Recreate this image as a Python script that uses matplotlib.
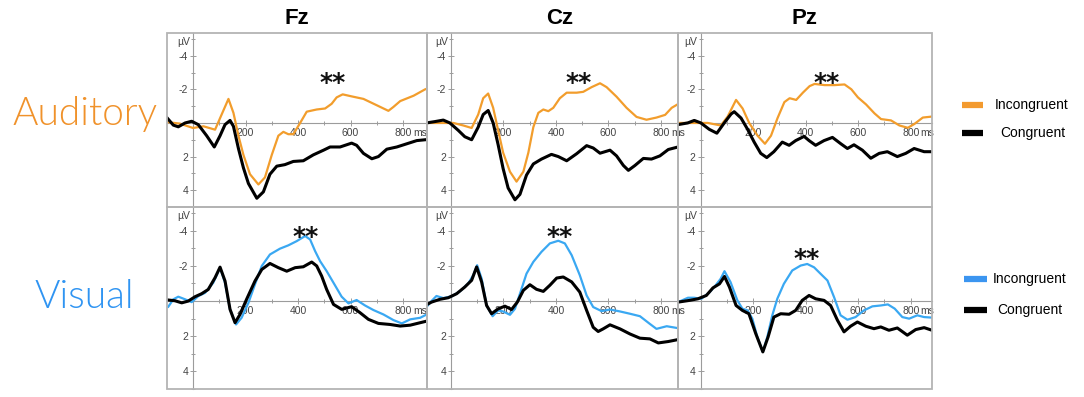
import numpy as np
import matplotlib
matplotlib.use('Agg')
import matplotlib.pyplot as plt
from matplotlib.patches import Rectangle
from matplotlib.lines import Line2D

plt.rcParams['axes.unicode_minus'] = False
plt.rcParams['font.family'] = ['Liberation Sans', 'DejaVu Sans']

# ---- data (ms, microvolts) ----
# Auditory / Fz
aud_fz_inc_t = [-98, -50, 0, 40, 84, 109, 135, 154, 173, 192, 217, 249, 274, 300, 325, 344, 363, 382, 408,
                433, 471, 503, 528, 547, 570, 604, 649, 700, 744, 763, 789, 840, 884]
aud_fz_inc_v = [-0.05, 0.04, 0.3, 0.2, 0.4, -0.5, -1.43, -0.6, 0.76, 1.9, 3.05, 3.66, 3.24, 1.9, 0.76, 0.53, 0.67,
                0.67, 0.0, -0.67, -0.8, -0.86, -1.14, -1.52, -1.7, -1.58, -1.43, -1.05, -0.72, -0.95, -1.3, -1.62, -2.0]
aud_fz_con_t = [-98, -75, -56, -30, -5, 20, 52, 81, 103, 122, 141, 154, 173, 192, 211, 243, 268, 293, 319, 350,
                382, 420, 458, 497, 522, 560, 604, 623, 649, 681, 706, 738, 776, 814, 852, 884]
aud_fz_con_v = [-0.29, 0.13, 0.23, 0.0, -0.1, 0.1, 0.76, 1.43, 0.76, 0.1, -0.15, 0.2, 1.52, 2.67, 3.6, 4.48, 4.1,
                3.05, 2.57, 2.48, 2.29, 2.25, 1.9, 1.62, 1.43, 1.43, 1.2, 1.33, 1.81, 2.13, 2.0, 1.56, 1.43, 1.24,
                1.05, 1.0]

# Auditory / Cz
aud_cz_inc_t = [-93, -42, 9, 47, 79, 104, 123, 142, 161, 180, 199, 225, 250, 276, 295, 314, 333, 352, 371, 390,
                415, 441, 479, 504, 536, 568, 593, 631, 669, 707, 745, 783, 816, 841, 865]
aud_cz_inc_v = [0.0, 0.0, 0.0, 0.15, 0.3, -0.5, -1.47, -1.75, -0.9, 0.44, 1.77, 2.9, 3.49, 2.9, 1.77, 0.25, -0.6,
                -0.8, -0.7, -0.9, -1.47, -1.8, -1.8, -1.85, -2.13, -2.36, -2.13, -1.56, -0.9, -0.36, -0.19, -0.32,
                -0.48, -0.9, -1.12]
aud_cz_con_t = [-93, -61, -29, -4, 28, 53, 79, 104, 123, 142, 161, 180, 199, 218, 244, 263, 288, 314, 345, 383,
                409, 441, 479, 517, 542, 568, 606, 631, 657, 676, 701, 733, 764, 796, 828, 865]
aud_cz_con_v = [0.0, -0.08, -0.17, 0.0, 0.44, 0.82, 1.0, 0.25, -0.5, -0.74, 0.0, 1.3, 2.72, 3.87, 4.57, 4.25, 3.1,
                2.44, 2.15, 1.87, 2.0, 2.25, 1.83, 1.35, 1.49, 1.8, 1.62, 1.96, 2.53, 2.82, 2.53, 2.11, 2.15, 1.96,
                1.58, 1.43]

# Auditory / Pz
aud_pz_inc_t = [-86, -24, 27, 77, 103, 135, 160, 185, 217, 245, 268, 293, 319, 339, 364, 390, 415, 434, 472, 510,
                548, 574, 599, 630, 662, 687, 725, 757, 789, 814, 846, 881]
aud_pz_inc_v = [0.0, 0.0, 0.0, 0.15, -0.38, -1.37, -0.86, 0.0, 0.76, 1.24, 0.76, -0.29, -1.24, -1.47, -1.37, -1.81,
                -2.19, -2.32, -2.25, -2.25, -2.29, -2.0, -1.52, -1.1, -0.57, -0.23, -0.15, 0.15, 0.29, 0.06, -0.32,
                -0.38]
aud_pz_con_t = [-86, -49, -24, 1, 33, 62, 90, 116, 128, 154, 179, 204, 229, 252, 279, 311, 337, 362, 394, 413,
                438, 470, 502, 534, 559, 584, 616, 648, 680, 711, 749, 781, 813, 851, 881]
aud_pz_con_v = [0.1, 0.0, -0.15, 0.0, 0.38, 0.61, 0.0, -0.53, -0.67, -0.29, 0.38, 1.14, 1.81, 2.06, 1.71, 1.14,
                1.33, 1.05, 0.8, 1.05, 1.33, 1.05, 0.86, 1.24, 1.52, 1.3, 1.62, 2.1, 1.81, 1.71, 2.0, 1.81, 1.52,
                1.71, 1.71]

# Visual / Fz
vis_fz_inc_t = [-94, -75, -56, -30, -5, 20, 46, 77, 103, 122, 141, 164, 185, 211, 236, 262, 293, 331, 363, 395,
                427, 446, 465, 484, 509, 535, 566, 592, 623, 655, 687, 725, 763, 795, 827, 865, 890]
vis_fz_inc_v = [0.32, -0.1, -0.25, -0.1, 0.06, -0.28, -0.47, -1.04, -1.9, -1.04, 0.47, 1.33, 0.95, 0.1, -0.95,
                -2.0, -2.65, -2.98, -3.17, -3.41, -3.7, -3.5, -2.84, -2.27, -1.7, -1.04, -0.25, 0.13, -0.06, 0.25,
                0.51, 0.76, 1.08, 1.27, 1.04, 0.95, 0.76]
vis_fz_con_t = [-94, -69, -43, -18, 8, 33, 58, 84, 103, 122, 141, 160, 179, 204, 236, 262, 293, 325, 357, 389,
                420, 452, 471, 490, 509, 535, 566, 604, 636, 668, 706, 750, 789, 827, 865, 890]
vis_fz_con_v = [-0.06, -0.02, 0.1, 0.0, -0.25, -0.42, -0.66, -1.33, -1.93, -1.14, 0.47, 1.23, 0.76, -0.1, -1.14,
                -1.8, -2.14, -1.9, -1.7, -1.9, -1.95, -2.22, -2.0, -1.42, -0.66, 0.19, 0.47, 0.32, 0.66, 1.04,
                1.27, 1.33, 1.42, 1.37, 1.23, 1.14]

# Visual / Cz
vis_cz_inc_t = [-93, -74, -55, -29, 3, 34, 66, 85, 100, 117, 136, 159, 180, 199, 225, 244, 263, 288, 314, 345,
                377, 409, 434, 460, 491, 517, 542, 574, 606, 644, 682, 720, 758, 783, 822, 865]
vis_cz_inc_v = [0.34, 0.0, -0.29, -0.17, -0.27, -0.55, -1.0, -1.47, -2.04, -1.28, 0.25, 0.86, 0.53, 0.59, 0.78,
                0.44, -0.42, -1.56, -2.23, -2.8, -3.28, -3.43, -3.28, -2.61, -1.47, -0.32, 0.34, 0.57, 0.48, 0.59,
                0.72, 0.86, 1.3, 1.58, 1.43, 1.54]
vis_cz_con_t = [-93, -74, -42, -10, 22, 53, 79, 98, 117, 136, 155, 180, 206, 231, 253, 276, 301, 326, 352, 377,
                403, 428, 460, 491, 517, 542, 561, 580, 606, 644, 682, 720, 758, 790, 828, 865]
vis_cz_con_v = [0.21, 0.06, -0.1, -0.19, -0.42, -0.8, -1.18, -1.94, -1.09, 0.25, 0.72, 0.44, 0.29, 0.48, 0.06,
                -0.61, -0.93, -0.67, -0.55, -0.9, -1.31, -1.37, -1.09, -0.51, 0.53, 1.49, 1.73, 1.58, 1.35, 1.58,
                1.87, 2.11, 2.15, 2.38, 2.3, 2.19]

# Visual / Pz
vis_pz_inc_t = [-86, -48, -25, 3, 34, 57, 76, 91, 114, 140, 159, 179, 197, 216, 237, 254, 273, 292, 317, 349,
                381, 406, 432, 457, 483, 508, 533, 559, 590, 622, 654, 686, 713, 739, 768, 794, 825, 851, 881]
vis_pz_inc_v = [0.06, -0.19, -0.19, -0.13, -0.5, -0.89, -1.26, -1.7, -1.08, -0.04, 0.43, 0.53, 1.0, 2.04, 2.89,
                2.04, 0.81, -0.13, -0.98, -1.74, -2.02, -2.11, -1.92, -1.55, -1.17, -0.23, 0.81, 1.06, 0.91, 0.53,
                0.3, 0.25, 0.19, 0.43, 0.91, 1.0, 0.81, 0.91, 0.94]
vis_pz_con_t = [-86, -42, -10, 22, 47, 72, 91, 110, 135, 159, 184, 210, 237, 257, 279, 305, 337, 362, 387, 413,
                438, 470, 495, 521, 546, 571, 597, 629, 660, 686, 717, 749, 787, 819, 851, 881]
vis_pz_con_v = [0.06, -0.04, -0.13, -0.32, -0.75, -0.98, -1.4, -0.79, 0.25, 0.53, 0.72, 1.85, 2.89, 2.04, 0.91,
                0.72, 0.75, 0.53, -0.04, -0.32, -0.13, -0.04, 0.25, 1.09, 1.75, 1.43, 1.19, 1.43, 1.57, 1.47, 1.66,
                1.53, 1.94, 1.62, 1.51, 1.66]

electrodes = ['Fz', 'Cz', 'Pz']
modalities = ['Auditory', 'Visual']
# significance markers (time, amplitude) per panel
star_pos = [[(530, -2.8), (488, -2.8), (481, -2.8)],
            [(427, -4.1), (415, -4.1), (403, -2.86)]]

curves = [
    [(aud_fz_inc_t, aud_fz_inc_v, aud_fz_con_t, aud_fz_con_v),
     (aud_cz_inc_t, aud_cz_inc_v, aud_cz_con_t, aud_cz_con_v),
     (aud_pz_inc_t, aud_pz_inc_v, aud_pz_con_t, aud_pz_con_v)],
    [(vis_fz_inc_t, vis_fz_inc_v, vis_fz_con_t, vis_fz_con_v),
     (vis_cz_inc_t, vis_cz_inc_v, vis_cz_con_t, vis_cz_con_v),
     (vis_pz_inc_t, vis_pz_inc_v, vis_pz_con_t, vis_pz_con_v)],
]

orange = '#F29D2C'
blue = '#3AA8F2'
inc_colors = [orange, blue]

# ---- layout in pixels ----
W, H = 1084, 397
fig = plt.figure(figsize=(W / 100, H / 100), dpi=100)

cols_px = [(167, 427), (427, 678), (678, 932)]
rows_px = [(33, 207), (207, 389)]
xlims = [(-99, 891), (-91, 865), (-86, 881)]
ylims = [(4.59, -5.35), (4.99, -5.35)]
grey = '#9c9c9c'

for r in range(2):
    for c in range(3):
        x0, x1 = cols_px[c]
        y0, y1 = rows_px[r]
        ax = fig.add_axes([x0 / W, 1 - y1 / H, (x1 - x0) / W, (y1 - y0) / H])
        ax.set_xlim(*xlims[c])
        ax.set_ylim(*ylims[r])
        ax.patch.set_alpha(0)

        ax.spines['left'].set_position(('data', 0))
        ax.spines['bottom'].set_position(('data', 0))
        ax.spines['top'].set_visible(False)
        ax.spines['right'].set_visible(False)
        for s in ['left', 'bottom']:
            ax.spines[s].set_color(grey)
            ax.spines[s].set_linewidth(0.8)
        ax.add_patch(Rectangle((0, 0), 1, 1, transform=ax.transAxes, fill=False,
                               ec='#b4b4b4', lw=1.3, clip_on=False, zorder=5))

        ax.set_xticks([200, 400, 600, 800])
        ax.set_xticks(np.arange(100, 900, 100), minor=True)
        ax.set_yticks([-4, -2, 2, 4])
        ax.set_yticks([-5, -3, -1, 1, 3, 5], minor=True)
        ax.tick_params(which='both', direction='inout', color=grey, labelsize=7.5,
                       labelcolor='#444444', pad=1.5, width=0.7)
        ax.tick_params(which='major', length=4)
        ax.tick_params(which='minor', length=2.5)

        ax.text(-12, -4.82, 'µV', ha='right', va='center', fontsize=7.5, color='#444444')
        ax.annotate('ms', xy=(838, 0), xytext=(0, -3.5), textcoords='offset points',
                    ha='left', va='top', fontsize=7.5, color='#444444', annotation_clip=True).set_clip_on(True)

        it, iv, ct, cv = curves[r][c]
        ax.plot(it, iv, color=inc_colors[r], lw=1.6, zorder=3, solid_joinstyle='round')
        ax.plot(ct, cv, color='black', lw=2.2, zorder=4, solid_joinstyle='round')

        sx, sy = star_pos[r][c]
        ax.text(sx, sy + 0.45, '**', ha='center', va='center', fontsize=18,
                fontweight='bold', family='DejaVu Sans', color='#111111')

# column titles
for name, xc in zip(electrodes, [297, 560, 804]):
    fig.text(xc / W, 1 - 24 / H, name, ha='center', va='baseline', fontsize=16,
             fontweight='bold', family=['Liberation Sans Narrow', 'Liberation Sans'])

# row labels
fig.text(85 / W, 1 - 125 / H, modalities[0], ha='center', va='baseline', fontsize=28,
         color='#F0922B', family=['Lato', 'Open Sans', 'DejaVu Sans'], fontweight=300)
fig.text(84 / W, 1 - 308 / H, modalities[1], ha='center', va='baseline', fontsize=28,
         color='#2F94F2', family=['Lato', 'Open Sans', 'DejaVu Sans'], fontweight=300)

# legends
def legend_item(x0, x1, y, color, label, tx):
    fig.add_artist(Line2D([x0 / W, x1 / W], [1 - y / H, 1 - y / H], color=color, lw=4.5,
                          solid_capstyle='butt'))
    fig.text(tx / W, 1 - y / H, label, ha='left', va='center', fontsize=10)

legend_item(962, 983, 105, '#F39A2E', 'Incongruent', 995)
legend_item(962, 983, 133, 'black', 'Congruent', 1000)
legend_item(964, 987, 279, '#3B95F0', 'Incongruent', 993)
legend_item(964, 987, 310, 'black', 'Congruent', 997)

fig.savefig('out.png', dpi=100)
